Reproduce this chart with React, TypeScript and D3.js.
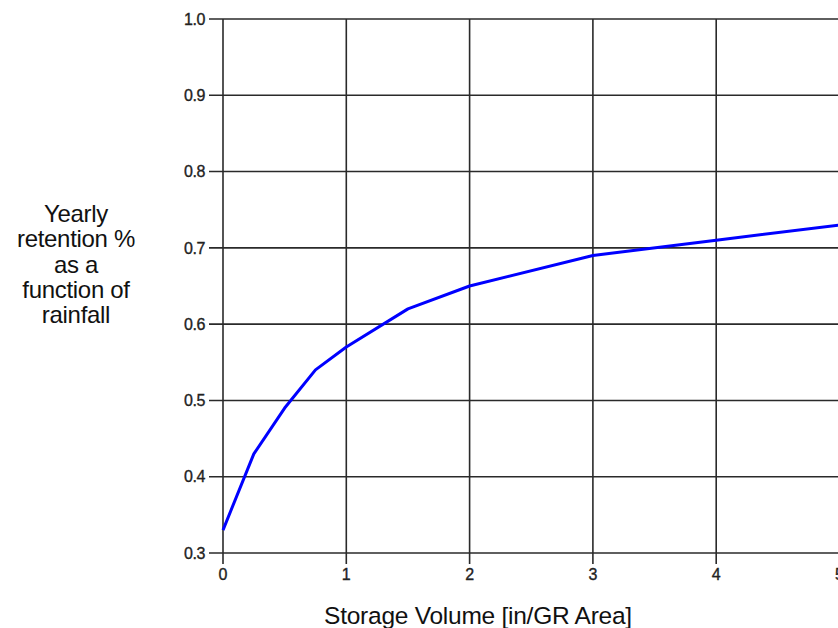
import React from "react";
import * as d3 from "d3";

const storage = [0, 0.25, 0.5, 0.75, 1, 1.5, 2, 3, 4, 5];
const retention = [0.33, 0.43, 0.49, 0.54, 0.57, 0.62, 0.65, 0.69, 0.71, 0.73];
const xTicks = [0, 1, 2, 3, 4, 5];
const yTicks = [0.3, 0.4, 0.5, 0.6, 0.7, 0.8, 0.9, 1.0];
const yTitleLines = ["Yearly", "retention %", "as a", "function of", "rainfall"];
const xTitle = "Storage Volume [in/GR Area]";

export default function App() {
  const W = 838, H = 628;
  const x = d3.scaleLinear().domain([0, 5]).range([223, 839.5]);
  const y = d3.scaleLinear().domain([0.3, 1.0]).range([553, 19]);
  const line = d3.line<number>().x((_, i) => x(storage[i])).y((d) => y(d));
  const grid = "#2a2a2a";
  const font = "'Liberation Sans', Arial, sans-serif";
  return (
    <svg width={W} height={H} style={{ position: "fixed", left: 0, top: 0, background: "#fff" }}>
      <rect width={W} height={H} fill="#fff" />
      {yTicks.map((t) => (
        <g key={"y" + t}>
          <line x1={209} x2={x(5)} y1={y(t)} y2={y(t)} stroke={grid} strokeWidth={1.6} />
          <text x={205} y={y(t)} dy="0.36em" textAnchor="end" fontFamily={font} fontSize={16} letterSpacing={-0.4} fill="#222" stroke="#222" strokeWidth={0.35}>
            {t.toFixed(1)}
          </text>
        </g>
      ))}
      {xTicks.map((t) => (
        <g key={"x" + t}>
          <line x1={x(t)} x2={x(t)} y1={y(1.0)} y2={564} stroke={grid} strokeWidth={1.6} />
          <text x={x(t)} y={580} textAnchor="middle" fontFamily={font} fontSize={16} fill="#222" stroke="#222" strokeWidth={0.35}>
            {t}
          </text>
        </g>
      ))}
      <path d={line(retention) || ""} fill="none" stroke="#0000ff" strokeWidth={3} strokeLinejoin="round" />
      <g fontFamily={font} fontSize={24} letterSpacing={-0.3} fill="#111" textAnchor="middle">
        {yTitleLines.map((s, i) => (
          <text key={s} x={76} y={222 + i * 25.3}>{s}</text>
        ))}
      </g>
      <text x={478} y={624} textAnchor="middle" fontFamily={font} fontSize={24.5} letterSpacing={-0.25} fill="#111">
        {xTitle}
      </text>
    </svg>
  );
}
